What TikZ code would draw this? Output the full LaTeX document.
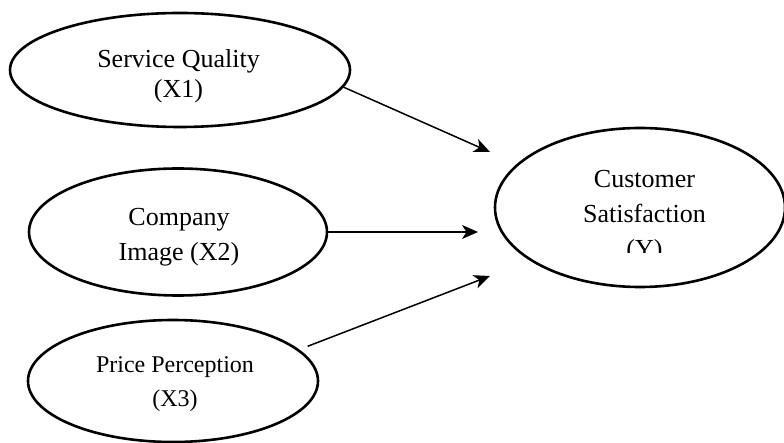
\documentclass[tikz,border=0pt]{standalone}
\usepackage{fontspec}
\setmainfont{Liberation Serif}
\usetikzlibrary{shapes.geometric,arrows.meta}
\begin{document}
\begin{tikzpicture}[x=1pt,y=-1pt,
  ell/.style={ellipse,draw=black,line width=2.6pt,inner sep=0pt},
  txt/.style={align=center,inner sep=0pt,anchor=north,text=black},
  arr/.style={line width=1.5pt,-{Stealth[length=16pt,width=14pt,inset=4.5pt]}}]
\clip (0,0) rectangle (784,443);
% ellipses
\node[ell,minimum width=340pt,minimum height=114pt] (x1) at (180,70) {};
\node[ell,minimum width=298pt,minimum height=127pt] (x2) at (178,232) {};
\node[ell,minimum width=290pt,minimum height=122pt] (x3) at (173,381) {};
\node[ell,minimum width=290pt,minimum height=159pt] (y) at (640,207.5) {};
% texts
\node[txt,font=\fontsize{26}{30}\selectfont] (x1t) at (178.5,49) {Service Quality\\(X1)};
\node[txt,font=\fontsize{26}{35}\selectfont] (x2t) at (179,208.4) {Company\\Image (X2)};
\node[txt,font=\fontsize{24}{34}\selectfont] (x3t) at (175,356.6) {Price Perception\\(X3)};
\begin{scope}
\clip (480,120) rectangle (784,253);
\node[txt,font=\fontsize{26}{35}\selectfont] (yt) at (644.5,170.4) {Customer\\Satisfaction\\(Y)};
\end{scope}
% arrow ends
\coordinate (t1) at (490,152);
\coordinate (t2) at (478,232);
\coordinate (t3) at (490,276);
\draw[arr] (x1.-6) -- (t1);
\draw[arr] (x2.east) -- (t2);
\draw[arr,shorten <=9pt] (x3.14) -- (t3);
\end{tikzpicture}
\end{document}
